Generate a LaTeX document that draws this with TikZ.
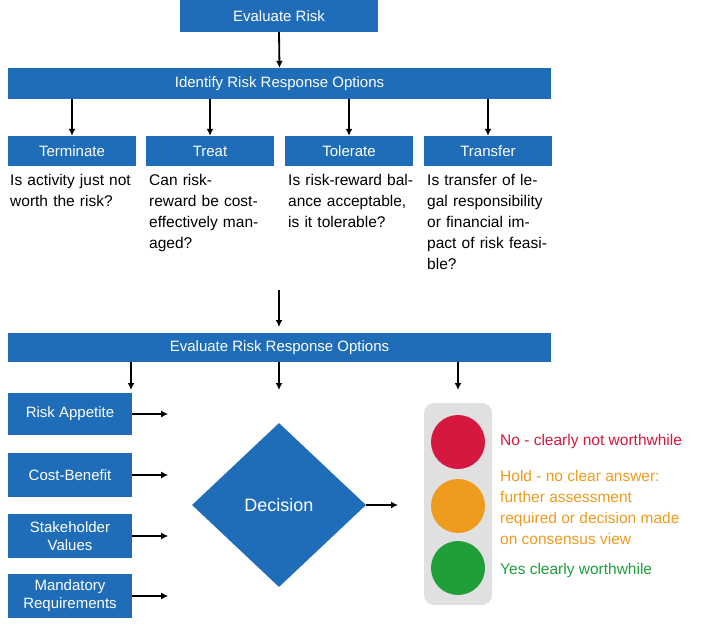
\documentclass[tikz,border=0pt]{standalone}
\usepackage{fontspec}
\setmainfont{Liberation Sans}
\usetikzlibrary{shapes.geometric,arrows.meta}
\definecolor{bl}{HTML}{1F6DB8}
\definecolor{rd}{HTML}{D6173F}
\definecolor{og}{HTML}{EE9B1D}
\definecolor{gn}{HTML}{1E9F3A}
\begin{document}
\begin{tikzpicture}[x=1pt,y=-1pt,
 box/.style={fill=bl,draw=none,text=white,font=\fontsize{15}{18}\selectfont,inner sep=0pt,align=center},
 q/.style={anchor=north west,align=left,text width=125pt,font=\fontsize{15.5}{21}\selectfont,inner sep=0pt},
 arr/.style={-{Latex[length=7pt,width=7pt]},line width=1.8pt},
 lt/.style={anchor=west,align=left,font=\fontsize{15.5}{21}\selectfont,inner sep=0pt}]
\useasboundingbox (0,0) rectangle (720,629);
\node[box,minimum width=198pt,minimum height=32pt] (er) at (279,16) {Evaluate Risk};
\node[box,minimum width=543pt,minimum height=31pt] (id) at (279.5,83.5) {Identify Risk Response Options};
\draw[arr] (er.south) -- (id.north);
\foreach \n/\x/\t in {t1/72/Terminate,t2/210/Treat,t3/349/Tolerate,t4/488/Transfer}{
 \node[box,minimum width=128pt,minimum height=30pt] (\n) at (\x,151) {\t};
 \draw[arr] (\x,99) -- (\n.north);}
\node[q] (q1) at (10,174) {Is activity just not worth the risk?};
\node[q] (q2) at (149,174) {Can risk-\\reward be cost-effectively managed?};
\node[q] (q3) at (288,174) {Is risk-reward balance acceptable, is it tolerable?};
\node[q] (q4) at (427,174) {Is transfer of legal responsibility or financial impact of risk feasible?};
\node[box,minimum width=543pt,minimum height=29pt] (ev) at (279.5,347.5) {Evaluate Risk Response Options};
\coordinate (a0) at (279,290);
\draw[arr] (a0) -- (279,327);
\node[box,minimum width=124pt,minimum height=42pt] (b1) at (70,414) {Risk Appetite};
\node[box,minimum width=124pt,minimum height=44pt] (b2) at (70,475) {Cost-Benefit};
\node[box,minimum width=124pt,minimum height=44pt] (b3) at (70,536) {Stakeholder\\Values};
\node[box,minimum width=124pt,minimum height=44pt] (b4) at (70,596) {Mandatory\\Requirements};
\foreach \b in {b1,b2,b3,b4}{\coordinate (\b e) at ([xshift=36pt]\b.east); \draw[arr] (\b.east) -- (\b e);}
\draw[arr] (131,362) -- (131,390);
\draw[arr] (279,362) -- (279,390);
\draw[arr] (458,362) -- (458,390);
\node[diamond,fill=bl,minimum width=174pt,minimum height=164pt,inner sep=0pt,text=white,font=\fontsize{18}{20}\selectfont] (d) at (279,505) {Decision};
\coordinate (de) at (398,505);
\draw[arr] (d.east) -- (de);
\node[fill=black!12,rounded corners=10pt,minimum width=68pt,minimum height=202pt] (tl) at (458,504) {};
\fill[rd] (458,442) circle (27);
\fill[og] (458,506) circle (27);
\fill[gn] (458,568) circle (27);
\node[lt,text=rd] (n1) at (500,441) {No - clearly not worthwhile};
\node[lt,text=og] (n2) at (500,507) {Hold - no clear answer:\\further assessment\\required or decision made\\on consensus view};
\node[lt,text=gn] (n3) at (500,570) {Yes clearly worthwhile};
\end{tikzpicture}
\end{document}
